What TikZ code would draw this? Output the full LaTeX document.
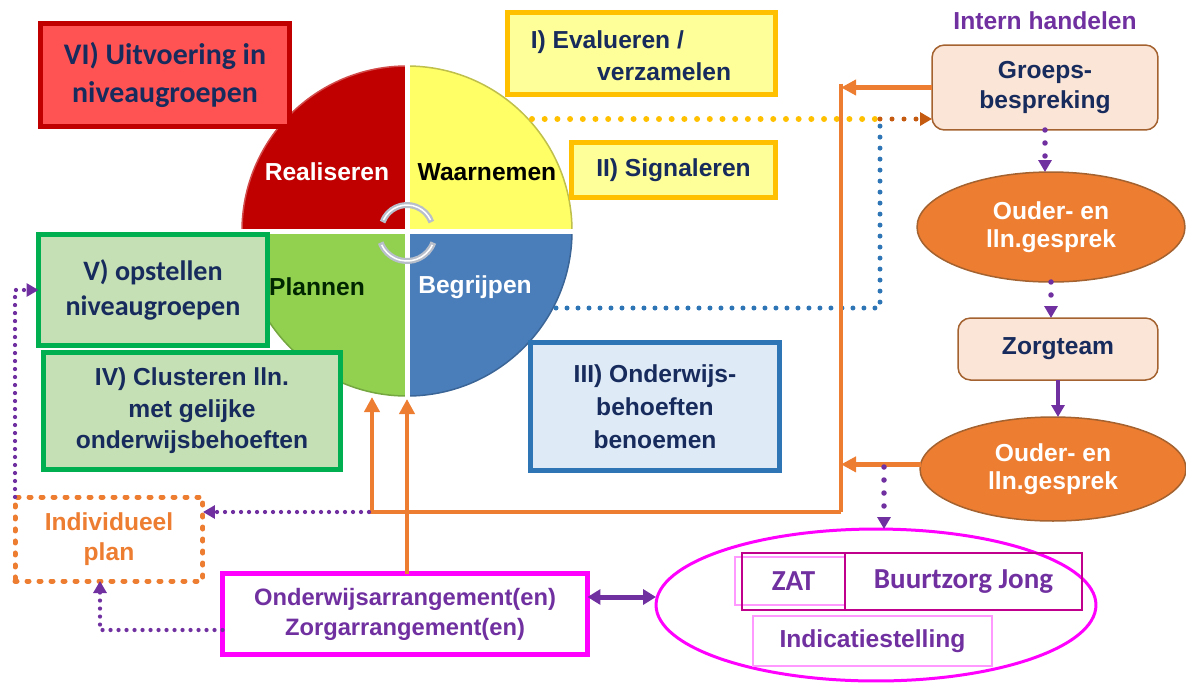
\documentclass[tikz,border=0pt]{standalone}
\usepackage{fontspec}
\setmainfont{Liberation Sans}
\newfontfamily\calfont{Carlito}
\usetikzlibrary{arrows.meta,shapes.geometric}
\definecolor{navy}{HTML}{172B5C}
\definecolor{vifill}{HTML}{FF5353}
\definecolor{vidraw}{HTML}{C00000}
\definecolor{yfill}{HTML}{FFFF99}
\definecolor{ydraw}{HTML}{FFC000}
\definecolor{gfill}{HTML}{C5E0B4}
\definecolor{gdraw}{HTML}{00B050}
\definecolor{bfill}{HTML}{DEEBF7}
\definecolor{bdraw}{HTML}{2E75B6}
\definecolor{purp}{HTML}{7030A0}
\definecolor{orng}{HTML}{ED7D31}
\definecolor{brwn}{HTML}{C55A11}
\definecolor{magn}{HTML}{FF00FF}
\definecolor{dmag}{HTML}{C0008C}
\definecolor{pmag}{HTML}{FF99FF}
\definecolor{peach}{HTML}{FBE5D6}
\definecolor{pbord}{HTML}{A3622F}
\definecolor{qred}{HTML}{C00000}
\definecolor{qyel}{HTML}{FFFF66}
\definecolor{qgrn}{HTML}{92D050}
\definecolor{qblu}{HTML}{4A7EBB}
\definecolor{cgray}{HTML}{B8BFCB}
\begin{document}
\begin{tikzpicture}[x=0.02cm,y=-0.02cm,
  every node/.style={inner sep=0pt, outer sep=0pt},
  lbl/.style={font=\bfseries\fontsize{14}{18}\selectfont, text=navy, align=center},
  stepbox/.style={draw, line width=0.1cm, lbl},
  rbox/.style={draw=pbord, fill=peach, line width=0.03cm, rounded corners=0.25cm, lbl},
  oval/.style={ellipse, draw=pbord, fill=orng, line width=0.03cm, lbl, text=white, font=\bfseries\fontsize{14}{16}\selectfont},
  oline/.style={draw=orng, line width=0.09cm},
  otip/.style={-{Triangle[length=0.3cm,width=0.3cm]}},
  ptip/.style={-{Triangle[length=0.24cm,width=0.26cm]}},
  ydot/.style={draw=ydraw, line width=0.12cm, line cap=round, dash pattern=on 0pt off 0.254cm},
  bdot/.style={draw=bdraw, line width=0.1cm, line cap=round, dash pattern=on 0pt off 0.22cm},
  pdot/.style={draw=purp, line width=0.085cm, line cap=round, dash pattern=on 0pt off 0.16cm},
  pdotb/.style={draw=purp, line width=0.11cm, line cap=round, dash pattern=on 0pt off 0.26cm},
]
\useasboundingbox (0,0) rectangle (1186,684);

% --- cycle circle ---
\coordinate (cyc) at (407,231);
\begin{scope}
  \clip (cyc) circle (165);
  \fill[qred] (cyc) rectangle (200,20);
  \fill[qyel] (cyc) rectangle (620,20);
  \fill[qgrn] (cyc) rectangle (200,450);
  \fill[qblu] (cyc) rectangle (620,450);
\end{scope}
\draw[qred!70!white, line width=0.03cm] ([shift={(180:165)}]cyc) arc[start angle=180,end angle=270,radius=165];
\draw[qyel!75!black, line width=0.03cm] ([shift={(270:165)}]cyc) arc[start angle=270,end angle=360,radius=165];
\draw[qgrn!80!black, line width=0.03cm] ([shift={(90:165)}]cyc) arc[start angle=90,end angle=180,radius=165];
\draw[qblu!80!black, line width=0.03cm] ([shift={(0:165)}]cyc) arc[start angle=0,end angle=90,radius=165];
\draw[white, line width=0.1cm] (236,231) -- (578,231);
\draw[white, line width=0.1cm] (407,60) -- (407,402);
\draw[cgray, line width=0.12cm] ([shift={(200:26)}]cyc) arc[start angle=200,end angle=340,radius=26];
\draw[white, line width=0.03cm] ([shift={(205:26)}]cyc) arc[start angle=205,end angle=335,radius=26];
\draw[cgray, line width=0.12cm] ([shift={(20:28)}]407,233) arc[start angle=20,end angle=160,radius=28];
\draw[white, line width=0.03cm] ([shift={(25:28)}]407,233) arc[start angle=25,end angle=155,radius=28];
\node[lbl, text=white] (real) at (327,172) {Realiseren};
\node[lbl, text=black] (waar) at (487,172) {Waarnemen};
\node[lbl, text=black!85!green] (plan1) at (317,287) {Plannen};
\node[lbl, text=white] (begr) at (475,287) {Begrijpen};

% --- left / middle boxes ---
\node[stepbox, fill=vifill, draw=vidraw, minimum width=4.98cm, minimum height=2.06cm,
  font=\calfont\bfseries\fontsize{17}{21.5}\selectfont] (vi) at (165,75) {VI) Uitvoering in\\niveaugroepen};
\node[stepbox, fill=yfill, draw=ydraw, minimum width=5.36cm, minimum height=1.64cm] (ev) at (641.5,53.5) {};
\node[lbl, align=left] (evt) at (631,56) {I) Evalueren /\\\hspace*{2.7em}verzamelen};
\node[stepbox, fill=yfill, draw=ydraw, minimum width=4.08cm, minimum height=1.10cm] (sig) at (673.5,170) {II) Signaleren};
\node[stepbox, fill=gfill, draw=gdraw, minimum width=4.58cm, minimum height=2.22cm,
  font=\calfont\bfseries\fontsize{16}{20}\selectfont] (vbox) at (153,290) {V) opstellen\\niveaugroepen};
\node[stepbox, fill=gfill, draw=gdraw, minimum width=5.94cm, minimum height=2.34cm] (ivbox) at (192,411) {IV) Clusteren lln.\\met gelijke\\onderwijsbehoeften};
\node[stepbox, fill=bfill, draw=bdraw, minimum width=4.98cm, minimum height=2.56cm,
  font=\bfseries\fontsize{14}{18.7}\selectfont] (iii) at (655,406.5) {III) Onderwijs-\\behoeften\\benoemen};
\node[draw=orng, line width=0.1cm, line cap=round, dash pattern=on 0.04cm off 0.2cm,
  minimum width=3.76cm, minimum height=1.68cm, lbl, text=orng, font=\bfseries\fontsize{14}{17}\selectfont] (plan) at (109,539) {Individueel\\plan};
\node[draw=magn, fill=white, line width=0.1cm, minimum width=7.30cm, minimum height=1.62cm,
  lbl, text=purp, font=\bfseries\fontsize{13.5}{17}\selectfont] (arr) at (405,614) {Onderwijsarrangement(en)\\Zorgarrangement(en)};

% --- external ellipse ---
\node[ellipse, draw=magn, line width=0.06cm, minimum width=8.8cm, minimum height=3.04cm] (ext) at (876,605) {};
\draw[pmag, line width=0.03cm] (845,557) -- (735,557) -- (735,605) -- (845,605);
\node[draw=dmag, line width=0.05cm, minimum width=2.06cm, minimum height=1.14cm, lbl, text=purp,
  font=\calfont\bfseries\fontsize{16.5}{20}\selectfont] (zat) at (793.5,581.5) {ZAT};
\node[draw=dmag, line width=0.05cm, minimum width=4.74cm, minimum height=1.14cm, lbl, text=purp,
  font=\calfont\bfseries\fontsize{16.5}{20}\selectfont] (bz) at (963.5,581.5) {Buurtzorg Jong};
\node[draw=pmag, line width=0.03cm, minimum width=4.78cm, minimum height=1.0cm, lbl, text=purp] (ind) at (872.5,641) {Indicatiestelling};

% --- right column ---
\node[lbl, text=purp] (intern) at (1045,21) {Intern handelen};
\node[rbox, minimum width=4.52cm, minimum height=1.70cm, font=\bfseries\fontsize{14}{15}\selectfont] (gb) at (1045,87.5) {\raisebox{-0.08cm}{\shortstack{Groeps-\\[0.05cm]bespreking}}};
\node[oval, minimum width=5.36cm, minimum height=2.2cm] (og1) at (1051,227) {Ouder- en\\lln.gesprek};
\node[rbox, minimum width=4.0cm, minimum height=1.24cm] (zt) at (1058,349) {Zorgteam};
\node[oval, minimum width=5.32cm, minimum height=2.08cm] (og2) at (1053,469) {Ouder- en\\lln.gesprek};

% --- dotted connectors ---
\coordinate (ys) at (532,119);
\coordinate (yj) at (880,119);
\coordinate (bs) at (556,308);
\draw[bdot] (bs) -- (bs -| yj) -- ([yshift=0.06cm]yj);
\draw[ydot] (ys) -- (yj);
\draw[draw=brwn, line width=0.1cm, line cap=round, dash pattern=on 0pt off 0.24cm, ptip] (yj) -- (gb.west |- yj);

% --- orange connectors ---
\coordinate (oc) at (841,512);
\coordinate (pin1) at (372,397);
\coordinate (pin2) at (407,399);
\draw[oline] ([yshift=0.08cm]gb.west -| oc) -- (oc);
\draw[oline, otip] (gb.west) -- (gb.west -| oc);
\draw[oline, otip] (og2.178) -- (og2.178 -| oc);
\draw[oline, otip] (oc) -- (oc -| pin1) -- (pin1);
\draw[oline, otip] (arr.north -| pin2) -- (pin2);

% --- purple connectors ---
\coordinate (pa) at (100,630);
\coordinate (pd) at (884,467);
\coordinate (dbl) at (620,597);
\draw[pdot, ptip] ([xshift=-0.06cm]oc -| pin1) -- (plan.east |- oc);
\draw[pdot, ptip] (arr.west |- pa) -- (pa) -- (pa |- plan.south);
\draw[pdot, ptip] (plan.north west) -- (plan.north west |- vbox.west) -- (vbox.west);
\draw[pdotb, ptip] (gb.south) -- (gb.south |- og1.north);
\draw[pdotb, ptip] (og1.south) -- (og1.south |- zt.north);
\draw[draw=purp, line width=0.09cm, ptip] (zt.south) -- (zt.south |- og2.north);
\draw[pdotb, ptip] (pd) -- (pd |- ext.north);
\draw[draw=purp, line width=0.1cm, {Triangle[length=0.26cm,width=0.3cm]}-{Triangle[length=0.26cm,width=0.3cm]}] (arr.east |- dbl) -- (ext.west |- dbl);
\end{tikzpicture}
\end{document}
